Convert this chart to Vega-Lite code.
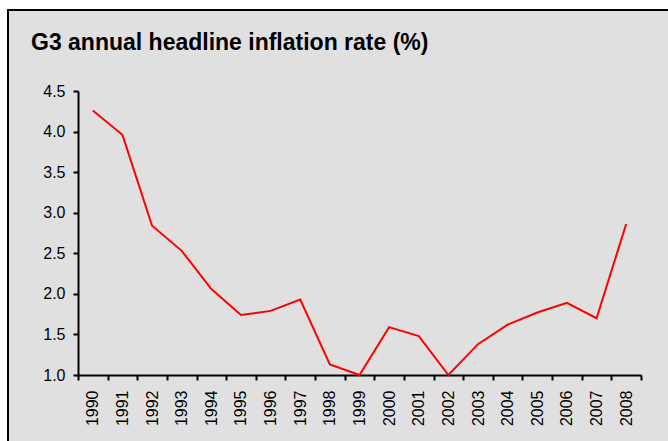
{
  "$schema": "https://vega.github.io/schema/vega-lite/v6.json",
  "width": 680,
  "height": 450,
  "autosize": {"type": "none"},
  "padding": {"left": 8, "top": 10, "right": 0, "bottom": 0},
  "background": "#ffffff",
  "config": {
    "view": {"fill": "#e0e0e0", "stroke": "#000000", "strokeWidth": 2},
    "font": "Liberation Sans",
    "axis": {
      "grid": false,
      "domain": true,
      "domainColor": "#000000",
      "domainWidth": 2,
      "labelFont": "Liberation Sans",
      "labelFontSize": 16,
      "labelColor": "#000000",
      "tickColor": "#000000",
      "tickWidth": 2,
      "tickSize": 5,
      "title": null
    }
  },
  "title": {
    "text": "G3 annual headline inflation rate (%)",
    "anchor": "start",
    "frame": "group",
    "font": "Liberation Sans",
    "fontSize": 23,
    "fontWeight": "bold",
    "color": "#000000",
    "offset": -45,
    "dx": 23
  },
  "data": {
    "values": [
      {"year": "1990", "rate": 4.26},
      {"year": "1991", "rate": 3.96},
      {"year": "1992", "rate": 2.84},
      {"year": "1993", "rate": 2.53},
      {"year": "1994", "rate": 2.06},
      {"year": "1995", "rate": 1.74},
      {"year": "1996", "rate": 1.79},
      {"year": "1997", "rate": 1.93},
      {"year": "1998", "rate": 1.13},
      {"year": "1999", "rate": 1.0},
      {"year": "2000", "rate": 1.59},
      {"year": "2001", "rate": 1.48},
      {"year": "2002", "rate": 1.0},
      {"year": "2003", "rate": 1.38},
      {"year": "2004", "rate": 1.62},
      {"year": "2005", "rate": 1.77},
      {"year": "2006", "rate": 1.89},
      {"year": "2007", "rate": 1.7},
      {"year": "2008", "rate": 2.86}
    ]
  },
  "mark": {"type": "line", "color": "#ff0000", "strokeWidth": 2},
  "encoding": {
    "x": {
      "field": "year",
      "type": "nominal",
      "bandPosition": 0.5,
      "scale": {"type": "band", "paddingInner": 0, "paddingOuter": 0, "range": [70, 633]},
      "axis": {
        "orient": "bottom",
        "offset": -85,
        "labelAngle": -90,
        "tickBand": "extent",
        "labelPadding": 10
      }
    },
    "y": {
      "field": "rate",
      "type": "quantitative",
      "scale": {"domain": [1, 4.5], "nice": false, "zero": false, "range": [365, 81]},
      "axis": {
        "orient": "left",
        "offset": -70,
        "values": [1, 1.5, 2, 2.5, 3, 3.5, 4, 4.5],
        "format": ".1f",
        "labelPadding": 8
      }
    }
  }
}
